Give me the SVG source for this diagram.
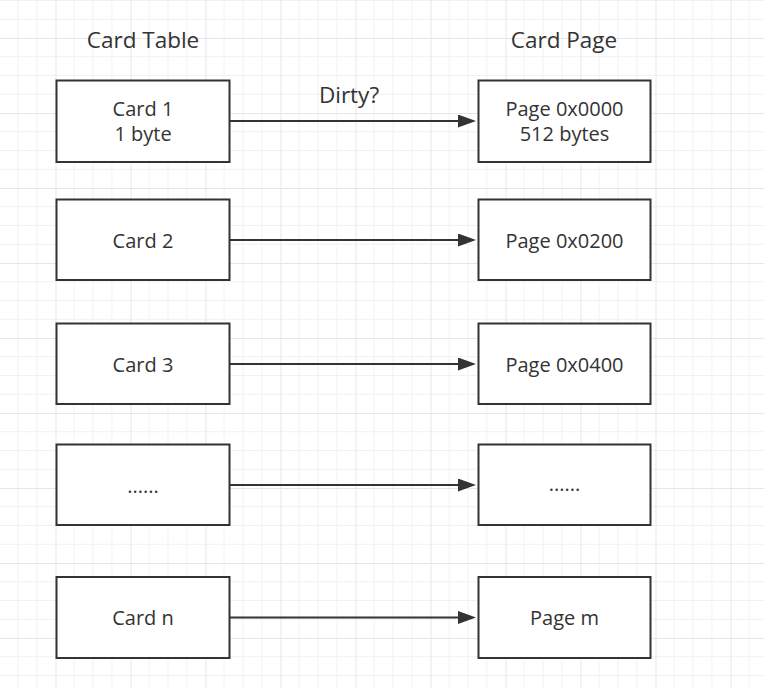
<svg xmlns="http://www.w3.org/2000/svg" width="764" height="688" viewBox="0 0 764 688">
  <style>
    .box { fill: #ffffff; stroke: #333333; stroke-width: 2; }
    .lbl { font-family: "Open Sans", "Noto Sans", sans-serif; font-size: 20px; fill: #333333; text-anchor: middle; }
    .title { font-family: "Open Sans", "Noto Sans", sans-serif; font-size: 22.5px; fill: #333333; text-anchor: middle; }
    .conn { stroke: #333333; stroke-width: 2; fill: none; }
  </style>
  <defs>
    <pattern id="grid" x="55.5" y="38" width="75" height="75" patternUnits="userSpaceOnUse">
      <path d="M18.75 0V75M37.5 0V75M56.25 0V75M0 18.75H75M0 37.5H75M0 56.25H75" stroke="#f1f1f1" stroke-width="1" fill="none"/>
      <path d="M0.5 0V75M0 0.5H75" stroke="#e6e6e6" stroke-width="1" fill="none"/>
    </pattern>
    <marker id="arrow" viewBox="0 0 18 13" refX="2" refY="6.5" markerWidth="18" markerHeight="13" markerUnits="userSpaceOnUse" orient="auto">
      <path d="M0 0L18 6.5L0 13Z" fill="#333333"/>
    </marker>
  </defs>
  <rect width="764" height="688" fill="#ffffff"/>
  <rect width="764" height="688" fill="url(#grid)"/>

  <text class="title" x="143" y="48">Card Table</text>
  <text class="title" x="564" y="48">Card Page</text>

  <g id="connectors">
    <line class="conn" x1="230" y1="121" x2="460" y2="121" marker-end="url(#arrow)"/>
    <text class="title" x="349" y="102.5">Dirty?</text>
    <line class="conn" x1="230" y1="240" x2="460" y2="240" marker-end="url(#arrow)"/>
    <line class="conn" x1="230" y1="364" x2="460" y2="364" marker-end="url(#arrow)"/>
    <line class="conn" x1="230" y1="485" x2="460" y2="485" marker-end="url(#arrow)"/>
    <line class="conn" x1="230" y1="617.5" x2="460" y2="617.5" marker-end="url(#arrow)"/>
  </g>

  <g id="card1">
    <rect class="box" x="56.5" y="80.5" width="173" height="81.5"/>
    <text class="lbl" x="143" y="116">Card 1</text>
    <text class="lbl" x="143" y="140.5">1 byte</text>
  </g>
  <g id="card2">
    <rect class="box" x="56.5" y="199.5" width="173" height="80.5"/>
    <text class="lbl" x="143" y="247.5">Card 2</text>
  </g>
  <g id="card3">
    <rect class="box" x="56.5" y="323.5" width="173" height="80.5"/>
    <text class="lbl" x="143" y="371.5">Card 3</text>
  </g>
  <g id="card-more">
    <rect class="box" x="56.5" y="444.5" width="173" height="80.5"/>
    <text class="lbl" x="143" y="493">......</text>
  </g>
  <g id="cardn">
    <rect class="box" x="56.5" y="577" width="173" height="81"/>
    <text class="lbl" x="143" y="625">Card n</text>
  </g>

  <g id="page0">
    <rect class="box" x="478.5" y="80.5" width="172" height="81.5"/>
    <text class="lbl" x="564.5" y="116">Page 0x0000</text>
    <text class="lbl" x="564.5" y="140.5">512 bytes</text>
  </g>
  <g id="page200">
    <rect class="box" x="478.5" y="199.5" width="172" height="80.5"/>
    <text class="lbl" x="564.5" y="247.5">Page 0x0200</text>
  </g>
  <g id="page400">
    <rect class="box" x="478.5" y="323.5" width="172" height="80.5"/>
    <text class="lbl" x="564.5" y="371.5">Page 0x0400</text>
  </g>
  <g id="page-more">
    <rect class="box" x="478.5" y="444.5" width="172" height="80.5"/>
    <text class="lbl" x="564.5" y="491">......</text>
  </g>
  <g id="pagem">
    <rect class="box" x="478.5" y="577" width="172" height="81"/>
    <text class="lbl" x="564.5" y="625">Page m</text>
  </g>
</svg>
